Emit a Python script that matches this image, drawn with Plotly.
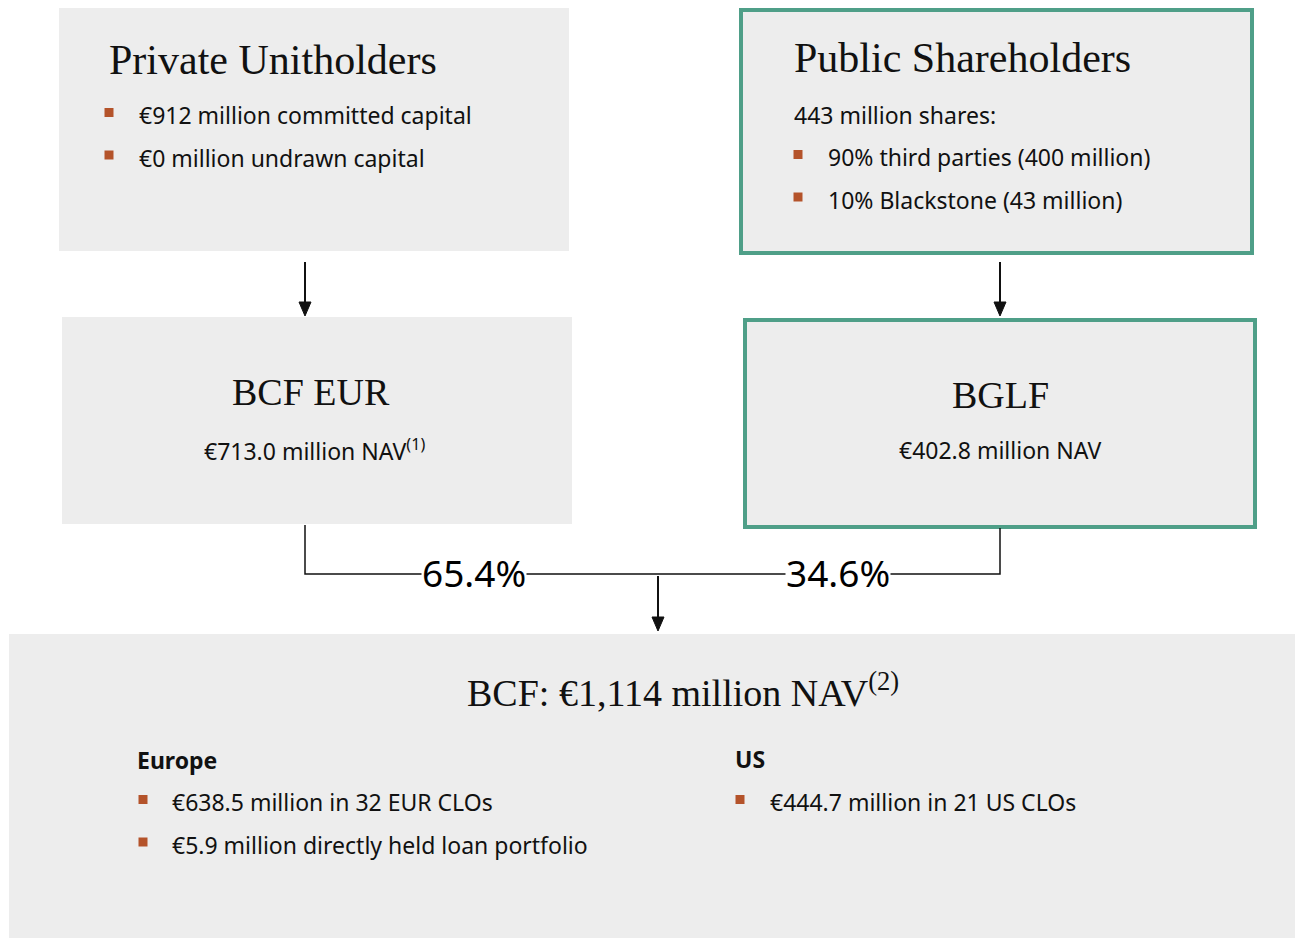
import plotly.graph_objects as go

# --- diagram content ---
box_titles = ["Private Unitholders", "Public Shareholders", "BCF EUR", "BGLF"]
private_items = ["€912 million committed capital", "€0 million undrawn capital"]
public_intro = "443 million shares:"
public_items = ["90% third parties (400 million)", "10% Blackstone (43 million)"]
nav_labels = ["€713.0 million NAV<sup>(1)</sup>", "€402.8 million NAV"]
share_labels = ["65.4%", "34.6%"]
bcf_title = "BCF: €1,114 million NAV<sup>(2)</sup>"
region_names = ["Europe", "US"]
europe_items = ["€638.5 million in 32 EUR CLOs", "€5.9 million directly held loan portfolio"]
us_items = ["€444.7 million in 21 US CLOs"]

W, H = 1295, 938
GREY = "#ededed"
TEAL = "#4f9f88"
BULLET = "#b4532a"
INK = "#111111"
SERIF = "Liberation Serif"
SANS = "Noto Sans"
BODY = 23

fig = go.Figure()
shapes = []
ann = []


def box(x0, y0, x1, y1, border=False):
    shapes.append(dict(type="rect", x0=x0, x1=x1, y0=y0, y1=y1, xref="x", yref="y",
                       fillcolor=GREY, layer="below",
                       line=dict(color=TEAL if border else GREY, width=4 if border else 0)))


def text(x, y, s, size, font=SANS, anchor="left", color=INK):
    ann.append(dict(x=x, y=y, text=s, xref="x", yref="y", showarrow=False,
                    xanchor=anchor, yanchor="middle",
                    font=dict(family=font, size=size, color=color)))


def bullet_list(xb, xt, y0, items, step=42.5):
    for i, s in enumerate(items):
        y = y0 + i * step
        shapes.append(dict(type="rect", x0=xb - 4.5, x1=xb + 4.5, y0=y - 7, y1=y + 2,
                           xref="x", yref="y", fillcolor=BULLET, line=dict(width=0)))
        text(xt, y, s, BODY)


def arrow(x, y0, y1):
    shapes.append(dict(type="line", x0=x, x1=x, y0=y0, y1=y1 - 10, xref="x", yref="y",
                       line=dict(color=INK, width=2)))
    shapes.append(dict(type="path", path=f"M {x-6} {y1-14} L {x+6} {y1-14} L {x} {y1} Z",
                       xref="x", yref="y", fillcolor=INK, line=dict(color=INK, width=1)))


# boxes
box(59, 8, 569, 251)
box(741, 10, 1252, 253, border=True)
box(62, 317, 572, 524)
box(745, 320, 1255, 527, border=True)
box(9, 634, 1300, 945)

# top-left box
text(107, 60, box_titles[0], 42, SERIF)
bullet_list(109, 137, 115, private_items)

# top-right box
text(792, 58, box_titles[1], 42, SERIF)
text(792, 115, public_intro, BODY)
bullet_list(798, 826, 157, public_items)

# middle boxes
text(311, 392, box_titles[2], 38, SERIF, anchor="center")
text(314, 450, nav_labels[0], BODY, anchor="center")
text(1000, 395, box_titles[3], 38, SERIF, anchor="center")
text(1000, 450, nav_labels[1], BODY, anchor="center")

# arrows from owners
arrow(305, 262, 316)
arrow(1000, 262, 316)

# connector lines
shapes.append(dict(type="path", path="M 305 525 L 305 574 L 1000 574 L 1000 528",
                   xref="x", yref="y", line=dict(color=INK, width=1.5)))
for xc, s in zip([474, 838], share_labels):
    ann.append(dict(x=xc, y=572, text=s, xref="x", yref="y", showarrow=False,
                    bgcolor="white", borderpad=0,
                    font=dict(family=SANS, size=37, color="#000000")))
arrow(658, 576, 631)

# bottom box
text(683, 690, bcf_title, 38, SERIF, anchor="center")
text(135, 760, "<b>" + region_names[0] + "</b>", BODY)
text(733, 759, "<b>" + region_names[1] + "</b>", BODY)
bullet_list(143, 170, 802, europe_items)
bullet_list(740, 768, 802, us_items)

fig.update_layout(
    width=W, height=H,
    margin=dict(l=0, r=0, t=0, b=0),
    paper_bgcolor="white", plot_bgcolor="white",
    xaxis=dict(range=[0, W], visible=False, fixedrange=True),
    yaxis=dict(range=[H, 0], visible=False, fixedrange=True),
    shapes=shapes, annotations=ann, showlegend=False,
)

# drop the default page margin so the figure sits flush in the window
fig.write_html("out.html", config={"displayModeBar": False},
               post_script="document.body.style.margin='0';document.body.style.overflow='hidden';")
